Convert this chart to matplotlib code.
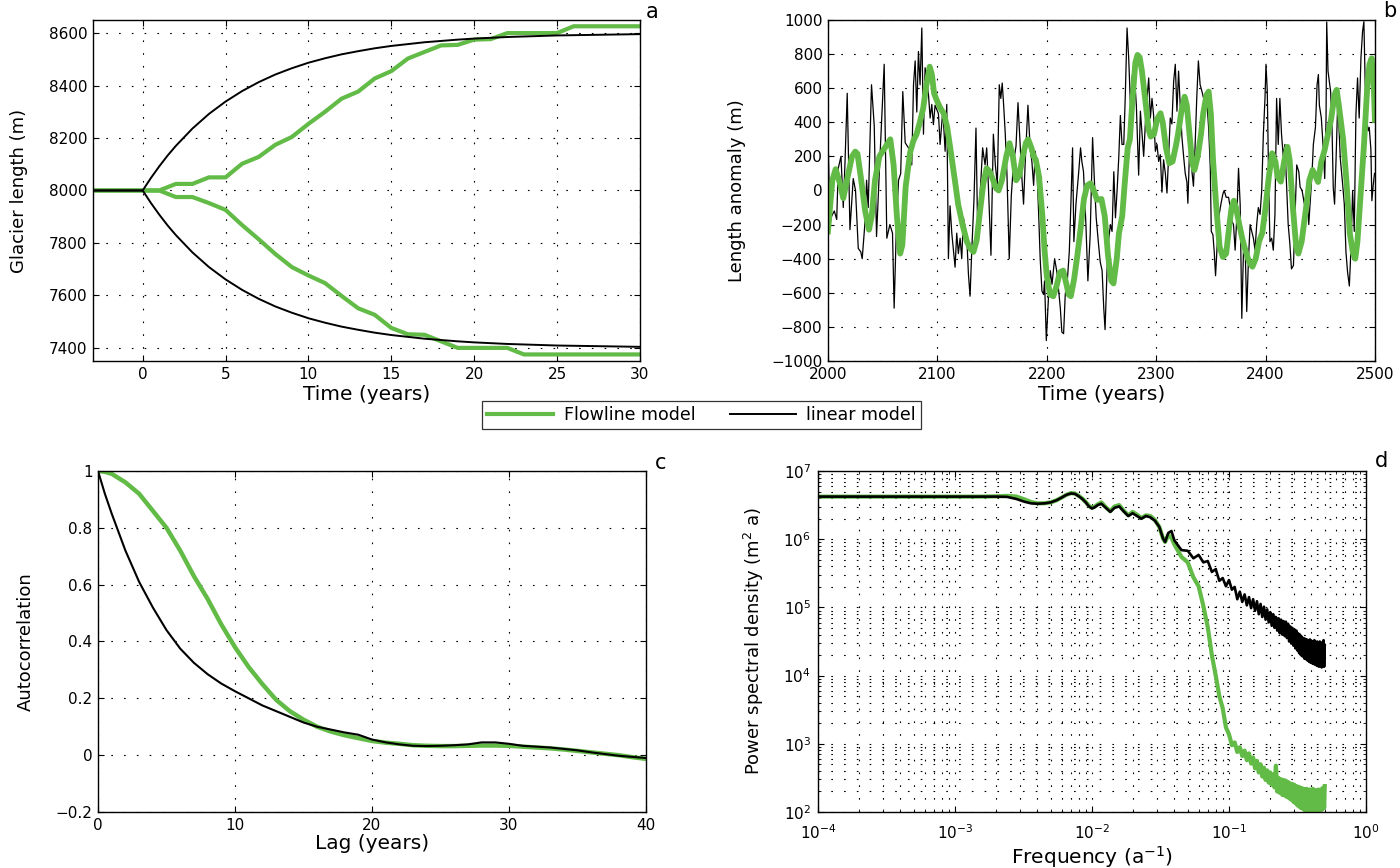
"""Glacier length: flowline vs linear model, 4 panels."""
import numpy as np
import matplotlib; matplotlib.use("Agg")
import matplotlib.pyplot as plt
from matplotlib.lines import Line2D
from matplotlib.ticker import FuncFormatter

GREEN = "#62bb46"

# ---- panel a: step response ----
a_t_lin = [-3, 0, 0.5, 1, 1.5, 2, 3, 4, 5, 6, 7, 8, 9, 10, 11, 12, 13, 14, 15, 16,
           17, 18, 19, 20, 21, 22, 23, 24, 25, 26, 27, 28, 29, 30]
a_lin_up = [8000, 8000, 8048, 8092, 8133, 8170, 8236, 8292, 8339, 8379, 8413, 8442,
            8466, 8487, 8504, 8519, 8531, 8542, 8551, 8558, 8565, 8570, 8575, 8579,
            8582, 8585, 8587, 8589, 8591, 8592, 8593, 8594, 8595, 8596]
a_lin_dn = [8000, 8000, 7952, 7908, 7867, 7830, 7764, 7708, 7661, 7621, 7587, 7558,
            7534, 7513, 7496, 7481, 7469, 7458, 7449, 7442, 7435, 7430, 7425, 7421,
            7418, 7415, 7413, 7411, 7409, 7408, 7407, 7406, 7405, 7404]
a_t_flow = list(range(-3, 31))
a_flow_up = [8000, 8000, 8000, 8000, 8000, 8025, 8025, 8050, 8050, 8102, 8128, 8174,
             8204, 8254, 8300, 8350, 8377, 8427, 8455, 8503, 8528, 8553, 8555, 8575,
             8577, 8600, 8600, 8600, 8600, 8626, 8626, 8626, 8626, 8626]
a_flow_dn = [8000, 8000, 8000, 8000, 8000, 7975, 7975, 7952, 7926, 7868, 7814, 7758,
             7708, 7676, 7647, 7598, 7551, 7526, 7476, 7452, 7450, 7425, 7400, 7400,
             7400, 7400, 7375, 7375, 7375, 7375, 7375, 7375, 7375, 7375]

# ---- panel b: length anomaly time series ----
b_lin_years = [
    2000.0, 2001.8, 2003.4, 2005.8, 2008.0, 2009.4, 2011.9, 2014.0, 2015.5, 2017.6,
    2020.1, 2023.1, 2025.2, 2027.7, 2030.0, 2031.3, 2033.7, 2035.3, 2036.8, 2039.8,
    2042.3, 2044.4, 2047.5, 2051.4, 2053.8, 2056.6, 2059.0, 2060.5, 2062.6, 2064.5,
    2066.5, 2068.4, 2070.6, 2073.6, 2076.6, 2078.2, 2079.7, 2081.2, 2082.7, 2084.2,
    2085.8, 2087.3, 2088.8, 2091.9, 2093.4, 2094.9, 2096.4, 2097.9, 2101.0, 2102.5,
    2105.0, 2107.1, 2108.6, 2110.1, 2111.6, 2113.2, 2116.2, 2117.7, 2119.2, 2120.8,
    2122.3, 2123.8, 2126.8, 2128.4, 2129.9, 2131.4, 2133.5, 2135.3, 2136.9, 2139.0,
    2141.4, 2143.6, 2145.1, 2146.6, 2149.0, 2151.2, 2153.0, 2154.8, 2156.6, 2158.0,
    2159.3, 2160.6, 2162.1, 2163.6, 2165.7, 2167.6, 2169.7, 2171.9, 2173.7, 2175.2,
    2177.3, 2178.8, 2180.4, 2182.8, 2184.9, 2186.4, 2188.0, 2189.5, 2191.0, 2192.5,
    2194.0, 2195.6, 2197.1, 2198.0, 2199.6, 2201.7, 2203.2, 2204.8, 2207.2, 2209.3,
    2212.4, 2213.8, 2215.4, 2216.9, 2219.0, 2220.6, 2222.1, 2223.6, 2224.8, 2226.7,
    2229.1, 2230.9, 2232.1, 2233.6, 2235.8, 2237.6, 2239.7, 2241.9, 2243.7, 2245.2,
    2247.4, 2248.9, 2250.6, 2252.1, 2253.3, 2255.2, 2256.7, 2258.2, 2259.7, 2261.3,
    2262.8, 2264.3, 2265.8, 2267.3, 2268.8, 2270.4, 2271.9, 2273.4, 2274.9, 2276.5,
    2278.0, 2279.5, 2281.9, 2284.0, 2285.6, 2287.1, 2288.6, 2290.1, 2291.7, 2293.2,
    2294.7, 2296.2, 2297.7, 2299.3, 2300.8, 2302.3, 2303.8, 2305.3, 2306.8, 2308.4,
    2309.9, 2311.4, 2312.9, 2314.4, 2316.0, 2317.5, 2319.0, 2320.5, 2322.0, 2323.6,
    2325.1, 2326.6, 2328.1, 2329.0, 2330.5, 2331.7, 2332.9, 2334.1, 2335.6, 2337.1,
    2338.6, 2340.2, 2341.9, 2343.4, 2344.9, 2346.4, 2348.0, 2349.5, 2350.4, 2351.9,
    2353.1, 2354.3, 2355.5, 2357.1, 2359.2, 2361.0, 2362.2, 2364.0, 2366.2, 2367.7,
    2369.2, 2370.7, 2372.2, 2373.7, 2375.3, 2376.8, 2378.3, 2379.8, 2381.3, 2382.8,
    2384.4, 2385.9, 2387.4, 2388.9, 2390.4, 2391.9, 2393.4, 2395.0, 2396.5, 2398.0,
    2399.5, 2400.4, 2401.6, 2402.8, 2404.0, 2405.6, 2407.1, 2408.6, 2410.1, 2411.6,
    2413.1, 2414.6, 2416.2, 2417.7, 2419.2, 2420.7, 2422.2, 2423.7, 2425.5, 2427.3,
    2428.5, 2430.4, 2431.6, 2433.4, 2435.5, 2437.7, 2439.5, 2440.7, 2442.5, 2443.7,
    2445.6, 2447.1, 2448.3, 2449.2, 2451.0, 2452.9, 2454.1, 2455.3, 2455.9, 2457.1,
    2458.3, 2459.5, 2460.7, 2461.9, 2463.1, 2464.4, 2465.9, 2466.8, 2468.3, 2470.5,
    2472.0, 2473.5, 2475.0, 2476.6, 2478.1, 2479.6, 2481.1, 2482.6, 2484.1, 2485.6,
    2487.2, 2488.7, 2489.9, 2491.1, 2492.3, 2493.8, 2494.8, 2496.3, 2497.2, 2498.4,
    2499.6]
b_lin_vals = [
    350, -200, -150, -120, -170, 130, 200, -100, 150, 570,
    -230, 70, 0, -340, -360, -400, -200, 60, -100, 620,
    380, -270, 190, 740, -280, -200, -250, -690, -200, 60,
    100, 580, 280, 250, 150, 620, 760, 460, 815, 620,
    953, 330, 720, 560, 425, 505, 386, 500, 450, 270,
    470, 230, 505, -400, -90, -250, -450, -250, -370, -280,
    -400, -160, -260, -490, -620, -360, -50, 366, -260, -30,
    250, 150, 250, 35, -380, 330, 150, 35, 620, 540,
    630, 500, 330, 100, -400, -30, 170, 260, 515, 330,
    70, -80, 180, 500, 240, 170, 30, 230, 130, -120,
    -400, -590, -610, -530, -880, -610, -470, -550, -400, -480,
    -690, -830, -840, -610, -510, -360, -70, 250, -300, -80,
    100, 250, 170, 110, -200, -530, -260, 310, 35, -160,
    -320, -420, -470, -690, -816, -450, -280, -200, -240, 110,
    -160, 0, 190, 440, 270, 270, 580, 953, 777, 500,
    660, 738, 500, 90, 465, 330, 200, 390, 540, 660,
    425, 540, 440, 230, 270, 170, 210, -10, 180, 100,
    -15, 200, 425, 390, 640, 740, 465, 700, 500, 310,
    200, 100, 50, -75, 230, 290, 100, 25, 260, 540,
    760, 620, 580, 540, 465, 520, 365, 130, -240, -260,
    -360, -500, -350, -160, -80, -20, 0, -40, -40, -100,
    -180, -200, -350, -160, 130, -80, -750, -360, -320, -710,
    -400, -200, -240, -280, -350, -200, -100, -140, 0, 330,
    540, 740, 580, 70, -300, -280, -350, -140, 540, 270,
    540, 330, 200, 270, 30, -200, -310, -460, -440, -80,
    150, 110, 20, 0, -80, 0, -200, -80, 100, 270,
    370, 620, 680, 500, 425, 230, 70, 425, 988, 700,
    640, 580, 390, 15, -80, 170, 500, 425, 190, 35,
    -80, -360, -480, -560, -340, 0, -240, 445, 660, 425,
    777, 934, 990, 620, 425, 350, 370, 240, -60, 30,
    100]
b_flow_years = [
    2000, 2004, 2007, 2011, 2014, 2018, 2022, 2025, 2027, 2030, 2034, 2037.5, 2040,
    2043, 2047, 2051, 2054, 2057, 2060, 2063, 2066, 2068, 2071, 2075, 2078, 2081,
    2084, 2087, 2090, 2093, 2095, 2097, 2100, 2103, 2106, 2109, 2112, 2116, 2119,
    2123, 2127, 2130, 2133, 2136, 2139, 2142, 2145, 2148, 2151, 2153, 2156, 2159,
    2163, 2166, 2169, 2172, 2175, 2178, 2181, 2183, 2186, 2188, 2190, 2193, 2196,
    2198, 2200, 2203, 2206, 2209, 2212, 2215, 2218, 2220, 2222, 2225, 2228, 2231,
    2234, 2237, 2240, 2243, 2246, 2250, 2253, 2256, 2259, 2261, 2264, 2266, 2269,
    2271, 2274, 2276, 2278, 2281, 2283, 2285, 2287, 2289, 2291, 2293, 2295, 2298,
    2301, 2304, 2306, 2309, 2312, 2315, 2318, 2320, 2323, 2326, 2328, 2331, 2333,
    2335, 2338, 2341, 2343, 2346, 2348, 2350, 2352, 2355, 2358, 2361, 2364, 2367,
    2369, 2371, 2373, 2376, 2379, 2382, 2385, 2388, 2391, 2394, 2397, 2400, 2403,
    2406, 2409, 2411, 2414, 2417, 2420, 2422, 2425, 2428, 2430, 2433, 2436, 2438,
    2440, 2443, 2446, 2448, 2451, 2454, 2457, 2460, 2463, 2465, 2467, 2469, 2471,
    2474, 2477, 2480, 2482, 2484, 2487, 2490, 2493, 2495, 2497, 2499, 2500]
b_flow_vals = [
    -240, 60, 125, 40, -45, 80, 200, 228, 215, 80, -120, -230, -150,
    60, 200, 240, 270, 300, 150, -150, -370, -320, 20, 220, 290, 330,
    400, 480, 620, 726, 680, 570, 520, 480, 450, 370, 240, 60, -80,
    -200, -300, -340, -360, -290, -120, 40, 130, 110, 60, 20, 0, 60,
    200, 277, 200, 60, 90, 200, 280, 300, 250, 200, 180, 80, -150,
    -350, -500, -610, -620, -560, -480, -470, -550, -610, -620, -520, -380, -220,
    -50, 30, 42, 0, -55, -50, -150, -380, -530, -545, -400, -250, -150,
    20, 250, 300, 500, 750, 795, 780, 700, 590, 480, 360, 316, 330,
    420, 453, 400, 250, 160, 170, 260, 330, 460, 550, 500, 300, 160,
    120, 200, 330, 450, 560, 580, 450, 180, -100, -330, -390, -370, -200,
    -100, -60, -100, -200, -290, -360, -420, -447, -400, -300, -250, -100, 80,
    218, 170, 80, 52, 170, 256, 180, -100, -330, -370, -300, -150, -55,
    60, 120, 80, 50, 170, 237, 330, 420, 560, 590, 500, 400, 296,
    50, -250, -370, -400, -300, -17, 270, 610, 740, 775, 600, 414]

# ---- panel c: autocorrelation ----
c_lag = [0, 0.5, 1, 2, 3, 4, 5, 6, 7, 8, 9, 10, 11, 12, 13, 14, 15, 16, 17, 18, 19,
         20, 21, 22, 23, 24, 25, 26, 27, 28, 29, 30, 31, 32, 33, 34, 35, 36, 37, 38,
         39, 40]
c_flow = [1.0, 0.997, 0.99, 0.96, 0.92, 0.86, 0.80, 0.72, 0.63, 0.55, 0.46, 0.38,
          0.31, 0.25, 0.195, 0.155, 0.125, 0.10, 0.083, 0.07, 0.06, 0.05, 0.044,
          0.04, 0.035, 0.033, 0.032, 0.032, 0.033, 0.034, 0.034, 0.033, 0.03, 0.027,
          0.024, 0.02, 0.015, 0.01, 0.005, 0.0, -0.007, -0.013]
c_lin = [1.0, 0.92, 0.85, 0.72, 0.61, 0.52, 0.44, 0.375, 0.325, 0.285, 0.252, 0.225,
         0.2, 0.175, 0.155, 0.135, 0.115, 0.1, 0.09, 0.08, 0.072, 0.055, 0.045,
         0.038, 0.033, 0.032, 0.033, 0.035, 0.038, 0.045, 0.045, 0.04, 0.033, 0.03,
         0.027, 0.022, 0.017, 0.01, 0.004, -0.002, -0.006, -0.01]

# ---- panel d: power spectra (log10 of PSD) ----
d_freq = [
    1.0e-4, 2e-4, 4e-4, 7e-4, 1e-3, 1.5e-3, 2e-3, 2.4e-3, 2.8e-3, 3.2e-3, 3.6e-3,
    4.0e-3, 4.5e-3, 5.0e-3, 5.5e-3, 6.0e-3, 6.5e-3, 7.0e-3, 7.5e-3, 8.0e-3, 8.5e-3,
    9.0e-3, 9.5e-3, 1.0e-2, 1.05e-2, 1.1e-2, 1.17e-2, 1.26e-2, 1.36e-2, 1.46e-2,
    1.58e-2, 1.70e-2, 1.84e-2, 1.98e-2, 2.13e-2, 2.29e-2, 2.48e-2, 2.67e-2, 2.88e-2,
    3.1e-2, 3.3e-2, 3.42e-2, 3.6e-2, 3.8e-2,
    0.040, 0.045, 0.050, 0.055, 0.060, 0.065, 0.070, 0.075, 0.080, 0.085,
    0.090, 0.095, 0.100, 0.105, 0.110, 0.115, 0.120, 0.125, 0.130, 0.135,
    0.140, 0.145, 0.150, 0.155, 0.160, 0.165, 0.170, 0.175, 0.180, 0.185,
    0.190, 0.195, 0.200, 0.205, 0.210, 0.215, 0.220, 0.225, 0.230, 0.235,
    0.240, 0.245, 0.250, 0.255, 0.260, 0.265, 0.270, 0.275, 0.280, 0.285,
    0.290, 0.295, 0.300, 0.305, 0.310, 0.315, 0.320, 0.325, 0.330, 0.335,
    0.340, 0.345, 0.350, 0.355, 0.360, 0.365, 0.370, 0.375, 0.380, 0.385,
    0.390, 0.395, 0.400, 0.405, 0.410, 0.415, 0.420, 0.425, 0.430, 0.435,
    0.440, 0.445, 0.450, 0.455, 0.460, 0.465, 0.470, 0.475, 0.480, 0.485,
    0.490, 0.495, 0.500]
d_lin_log = [
    6.624, 6.624, 6.624, 6.624, 6.624, 6.624, 6.624, 6.62, 6.59, 6.55, 6.525,
    6.52, 6.525, 6.54, 6.57, 6.61, 6.65, 6.67, 6.665, 6.63, 6.59,
    6.54, 6.48, 6.45, 6.47, 6.50, 6.52, 6.46, 6.40, 6.46,
    6.48, 6.41, 6.34, 6.38, 6.34, 6.30, 6.34, 6.32, 6.27,
    6.18, 6.01, 5.96, 6.09, 6.12,
    5.98, 5.84, 5.83, 5.72, 5.77, 5.66, 5.68, 5.52, 5.56, 5.39,
    5.43, 5.31, 5.40, 5.26, 5.30, 5.12, 5.23, 5.08, 5.19, 5.03,
    5.15, 4.99, 5.12, 4.95, 5.09, 4.90, 5.05, 4.86, 5.01, 4.82,
    4.97, 4.78, 4.93, 4.73, 4.90, 4.70, 4.86, 4.66, 4.84, 4.62,
    4.82, 4.60, 4.80, 4.58, 4.79, 4.55, 4.76, 4.50, 4.72, 4.47,
    4.70, 4.44, 4.68, 4.40, 4.66, 4.37, 4.62, 4.33, 4.60, 4.30,
    4.57, 4.28, 4.55, 4.25, 4.54, 4.24, 4.53, 4.22, 4.52, 4.20,
    4.53, 4.19, 4.51, 4.18, 4.50, 4.17, 4.52, 4.16, 4.49, 4.15,
    4.50, 4.14, 4.48, 4.13, 4.50, 4.15, 4.47, 4.12, 4.49, 4.14,
    4.52, 4.13, 4.45]
d_flow_log = [
    6.624, 6.624, 6.624, 6.624, 6.624, 6.624, 6.628, 6.635, 6.625, 6.585, 6.545,
    6.525, 6.527, 6.54, 6.57, 6.61, 6.65, 6.675, 6.67, 6.635, 6.595,
    6.545, 6.49, 6.46, 6.48, 6.51, 6.54, 6.47, 6.41, 6.48,
    6.50, 6.42, 6.35, 6.40, 6.36, 6.31, 6.35, 6.34, 6.28,
    6.18, 6.01, 5.96, 6.06, 6.02,
    5.92, 5.74, 5.66, 5.44, 5.31, 5.02, 4.71, 4.30, 4.00, 3.70,
    3.52, 3.24, 3.14, 2.98, 3.02, 2.88, 2.95, 2.82, 2.90, 2.76,
    2.86, 2.71, 2.80, 2.64, 2.75, 2.58, 2.70, 2.52, 2.65, 2.47,
    2.61, 2.43, 2.58, 2.40, 2.55, 2.36, 2.68, 2.30, 2.50, 2.28,
    2.48, 2.25, 2.47, 2.24, 2.46, 2.22, 2.44, 2.20, 2.42, 2.18,
    2.41, 2.15, 2.40, 2.13, 2.38, 2.10, 2.37, 2.08, 2.36, 2.06,
    2.35, 2.05, 2.34, 2.03, 2.33, 2.02, 2.34, 2.01, 2.32, 2.00,
    2.33, 2.02, 2.31, 2.01, 2.34, 2.00, 2.30, 2.02, 2.32, 2.01,
    2.31, 2.03, 2.33, 2.02, 2.30, 2.04, 2.32, 2.03, 2.35, 2.05,
    2.33, 2.06, 2.38]

plt.rcParams["font.family"] = ["DejaVu Sans"]
plt.rcParams["axes.linewidth"] = 1.0
GRID = dict(color="k", linestyle=(0, (1.5, 10)), linewidth=0.8)
TICK = 11
XLAB = 14.5
YLAB = 13


def style(ax, pad=4):
    ax.tick_params(direction="in", top=True, right=True, length=4, width=0.8,
                   labelsize=TICK, pad=pad)
    ax.tick_params(which="minor", direction="in", top=True, right=True, length=2)


fig = plt.figure(figsize=(14, 8.68), dpi=100)
ax1 = fig.add_axes([0.0664, 0.5841, 0.3907, 0.3929])
ax2 = fig.add_axes([0.5914, 0.5841, 0.3907, 0.3929])
ax3 = fig.add_axes([0.0700, 0.0645, 0.3914, 0.3929])
ax4 = fig.add_axes([0.5843, 0.0645, 0.3914, 0.3929])

# a
ax1.plot(a_t_flow, a_flow_up, color=GREEN, lw=3.0, solid_joinstyle="round")
ax1.plot(a_t_flow, a_flow_dn, color=GREEN, lw=3.0, solid_joinstyle="round")
ax1.plot(a_t_lin, a_lin_up, color="k", lw=1.4)
ax1.plot(a_t_lin, a_lin_dn, color="k", lw=1.4)
ax1.set_xlim(-3, 30)
ax1.set_ylim(7350, 8650)
ax1.set_xticks(range(0, 31, 5))
ax1.set_yticks(range(7400, 8601, 200))
ax1.grid(True, **GRID)
style(ax1)
ax1.set_xlabel("Time (years)", fontsize=XLAB)
ax1.set_ylabel("Glacier length (m)", fontsize=YLAB)
ax1.xaxis.set_label_coords(0.5, -0.07)
ax1.yaxis.set_label_coords(-0.118, 0.5)

# b
ax2.plot(b_lin_years, b_lin_vals, color="k", lw=0.9)
ax2.plot(b_flow_years, b_flow_vals, color=GREEN, lw=4.2, solid_joinstyle="round")
ax2.set_xlim(2000, 2500)
ax2.set_ylim(-1000, 1000)
ax2.set_xticks(range(2000, 2501, 100))
ax2.set_yticks(range(-1000, 1001, 200))
ax2.grid(True, **GRID)
style(ax2)
ax2.set_xlabel("Time (years)", fontsize=XLAB)
ax2.set_ylabel("Length anomaly (m)", fontsize=YLAB)
ax2.xaxis.set_label_coords(0.5, -0.07)
ax2.yaxis.set_label_coords(-0.15, 0.5)

# c
ax3.plot(c_lag, c_flow, color=GREEN, lw=3.2)
ax3.plot(c_lag, c_lin, color="k", lw=1.5)
ax3.set_xlim(0, 40)
ax3.set_ylim(-0.2, 1)
ax3.set_xticks(range(0, 41, 10))
ax3.set_yticks([-0.2, 0, 0.2, 0.4, 0.6, 0.8, 1])
ax3.yaxis.set_major_formatter(FuncFormatter(lambda v, _: f"{v:g}".replace("-", "\u2212")))
ax3.grid(True, **GRID)
style(ax3)
ax3.set_xlabel("Lag (years)", fontsize=XLAB)
ax3.set_ylabel("Autocorrelation", fontsize=YLAB)
ax3.xaxis.set_label_coords(0.5, -0.065)
ax3.yaxis.set_label_coords(-0.115, 0.5)

# d
ax4.loglog(d_freq, 10 ** np.array(d_flow_log), color=GREEN, lw=3.0)
ax4.loglog(d_freq, 10 ** np.array(d_lin_log), color="k", lw=1.9)
ax4.set_xlim(1e-4, 1)
ax4.set_ylim(1e2, 1e7)
ax4.grid(True, which="both", **GRID)
style(ax4, pad=5)
ax4.tick_params(axis="x", pad=8)
ax4.set_xlabel("Frequency (a$^{-1}$)", fontsize=XLAB)
ax4.set_ylabel("Power spectral density (m$^{2}$ a)", fontsize=YLAB)
ax4.xaxis.set_label_coords(0.5, -0.095)
ax4.yaxis.set_label_coords(-0.095, 0.5)

for ax in (ax1, ax2, ax3, ax4):
    for sp in ax.spines.values():
        sp.set_zorder(5)

# panel letters
fig.text(652 / 1400, 1 - 12 / 868, "a", fontsize=15, ha="center", va="center")
fig.text(1390 / 1400, 1 - 11 / 868, "b", fontsize=15, ha="center", va="center")
fig.text(661 / 1400, 1 - 463 / 868, "c", fontsize=15, ha="center", va="center")
fig.text(1381 / 1400, 1 - 461 / 868, "d", fontsize=15, ha="center", va="center")

handles = [Line2D([], [], color=GREEN, lw=3.0), Line2D([], [], color="k", lw=1.4)]
leg = fig.legend(handles, ["Flowline model", "linear model"], loc="center",
                 bbox_to_anchor=(701.5 / 1400, 1 - 415 / 868), ncol=2, fontsize=12.5,
                 frameon=True, fancybox=False, edgecolor="k", handlelength=3.8,
                 handletextpad=0.6, columnspacing=2.0, borderpad=0.3)
leg.get_frame().set_linewidth(0.9)

fig.savefig("out.png", dpi=100)
print("Saved out.png")
